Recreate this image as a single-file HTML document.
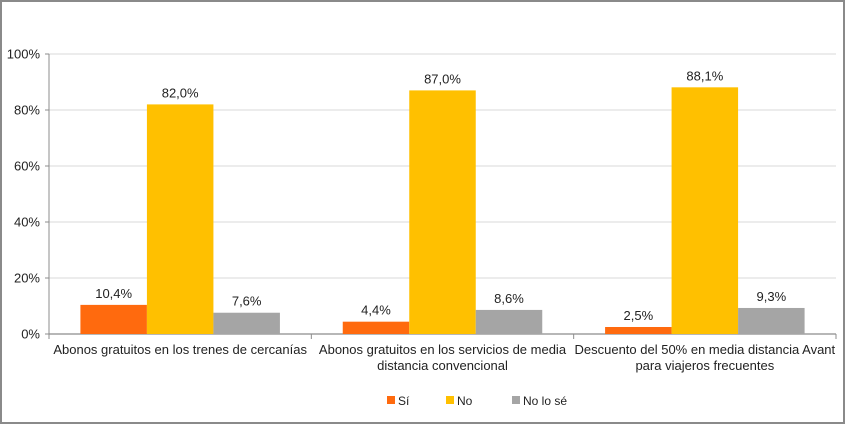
<!DOCTYPE html>
<html><head><meta charset="utf-8"><style>
html,body{margin:0;padding:0;background:#fff}
svg{display:block;font-family:"Liberation Sans",sans-serif}
</style></head><body>
<svg id="c" width="845" height="424">
<rect x="1" y="1" width="843" height="422" fill="#fff" stroke="#8a8a8a" stroke-width="2"/>
</svg>
<script>
const categories=[["Abonos gratuitos en los trenes de cercanías"],["Abonos gratuitos en los servicios de media","distancia convencional"],["Descuento del 50% en media distancia Avant","para viajeros frecuentes"]];
const seriesNames=["Sí","No","No lo sé"];
const si=[10.4,4.4,2.5];
const no=[82.0,87.0,88.1];
const nose=[7.6,8.6,9.3];
const yTicks=[0,20,40,60,80,100];
const colors=["#FF6A0E","#FFC000","#A5A5A5"];
const NS="http://www.w3.org/2000/svg";
const svg=document.getElementById('c');
const x0=49,x1=836,y0=334,y100=54;
const y=v=>y0-(v/100)*(y0-y100);
const gw=(x1-x0)/categories.length, bw=66.5;
function mk(t,a,p){const e=document.createElementNS(NS,t);for(const k in a)e.setAttribute(k,a[k]);(p||svg).appendChild(e);return e;}
yTicks.forEach(t=>{
 const g=mk('line',{x1:x0,x2:x1,y1:y(t),y2:y(t),stroke:t?'#d9d9d9':'#8c8c8c','stroke-width':t?1:1.3});
 
 
 const tk=mk('line',{x1:x0-4,x2:x0,y1:y(t),y2:y(t),stroke:'#8c8c8c'});
 
 
 const l=mk('text',{x:x0-9,y:y(t)+4.5,'text-anchor':'end','font-size':13,fill:'#222'});
 l.textContent=t+'%';
 
 
});
const ya=mk('line',{x1:x0,x2:x0,y1:y100,y2:y0,stroke:'#8c8c8c'});


for(let i=0;i<=categories.length;i++){
 const xt=x0+i*gw;
 const t=mk('line',{x1:xt,x2:xt,y1:y0,y2:y0+5,stroke:'#8c8c8c'});
 
 
}
const series=[si,no,nose];
categories.forEach((cat,i)=>{
 const gs=x0+i*gw+(gw-3*bw)/2;
 series.forEach((s,j)=>{
  const v=s[i], bx=gs+j*bw;
  const r=mk('rect',{x:bx,y:y(v),width:bw,height:y0-y(v),fill:colors[j]});
  
  
  const l=mk('text',{x:bx+bw/2,y:y(v)-7,'text-anchor':'middle','font-size':13,fill:'#222'});
  l.textContent=v.toFixed(1).replace('.',',')+'%';
  
  
 });
 cat.forEach((line,k)=>{
  const t=mk('text',{x:x0+i*gw+gw/2,y:354+k*16,'text-anchor':'middle','font-size':13,fill:'#222'});
  t.textContent=line;
  
  
 });
});
const lx=[387,446,512];
seriesNames.forEach((n,j)=>{
 const g=mk('g',{});
 
 
 mk('rect',{x:lx[j],y:396,width:8,height:8,fill:colors[j]},g);
 const t=mk('text',{x:lx[j]+11,y:405,'font-size':12,fill:'#222'},g);
 t.textContent=n;
});
</script>
</body></html>
